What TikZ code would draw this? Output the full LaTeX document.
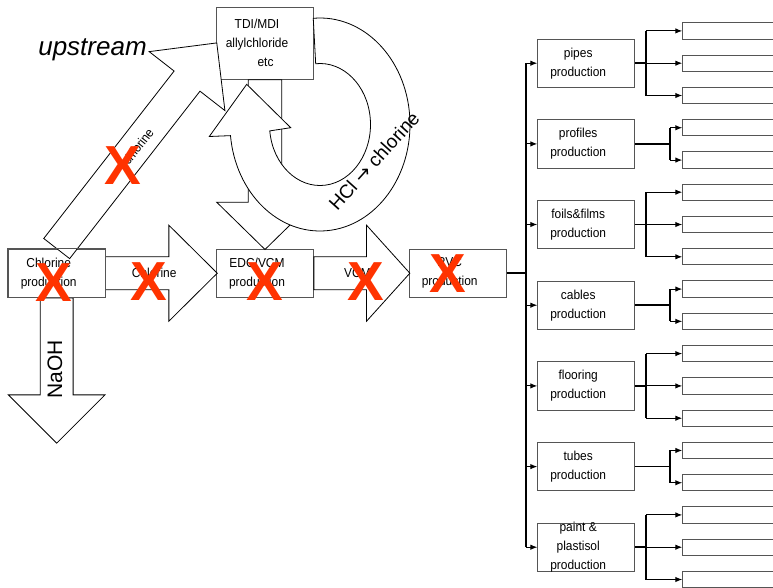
\documentclass[tikz,border=0pt]{standalone}
\usepackage{fontspec}
\setmainfont{Liberation Sans}
\newfontfamily\condf[FakeStretch=0.92]{Liberation Sans}
\newfontfamily\dvsans{DejaVu Sans}
\usetikzlibrary{arrows.meta}
\definecolor{xred}{RGB}{255,51,0}
\definecolor{boxline}{RGB}{85,85,85}
% block arrow: #1 start, #2 angle, #3 length, #4 half shaft, #5 half head, #6 head length
\newcommand{\blockarr}[6]{%
  \draw[barrow,shift={#1},rotate=#2] (0,-#4) -- ({#3-#6},-#4) -- ({#3-#6},-#5) -- (#3,0) -- ({#3-#6},#5) -- ({#3-#6},#4) -- (0,#4) -- cycle;}
\newcommand{\prodbox}[3]{%
  \node[box,fill=white] (#1) at (586.2,#2) {};
  \node[btxt] (#1t) at (#1) {#3};
  \draw[arr] (trunk |- #1.west) -- (#1.west);}
\newcommand{\threeout}[2]{%
  \node[outbox] (#1a) at (682.3,{#2-32.3}) {};
  \node[outbox] (#1b) at (682.3,#2) {};
  \node[outbox] (#1c) at (682.3,{#2+32.3}) {};
  \coordinate (#1j) at (646,#2);
  \draw[thk] (#1.east) -- (#1j);
  \draw[link] (#1j |- #1a.west) -- (#1j |- #1c.west);
  \draw[arr] (#1j |- #1a.west) -- (#1a.west);
  \draw[arr] (#1j) -- (#1b.west);
  \draw[arr] (#1j |- #1c.west) -- (#1c.west);}
\newcommand{\twoout}[2]{%
  \node[outbox] (#1a) at (682.3,{#2-16.15}) {};
  \node[outbox] (#1b) at (682.3,{#2+16.15}) {};
  \coordinate (#1j) at (670,#2);
  \draw[thk] (#1.east) -- (#1j);
  \draw[link] (#1j |- #1a.west) -- (#1j |- #1b.west);
  \draw[arr] (#1j |- #1a.west) -- (#1a.west);
  \draw[arr] (#1j |- #1b.west) -- (#1b.west);}
\begin{document}
\begin{tikzpicture}[x=1pt,y=-1pt,
  box/.style={draw=boxline,line width=1pt,minimum width=96.7pt,minimum height=48.3pt,inner sep=0pt},
  btxt/.style={font=\condf\fontsize{13}{19}\selectfont,align=center,xshift=-8pt,inner sep=0pt},
  outbox/.style={draw=boxline,line width=1pt,minimum width=120pt,minimum height=16.3pt,inner sep=0pt,anchor=west},
  barrow/.style={draw=black,line width=0.8pt,fill=white,line join=miter},
  link/.style={draw=black,line width=1.1pt},
  thk/.style={draw=black,line width=1.7pt},
  arr/.style={link,-{Latex[length=7pt,width=5.5pt]}},
  xmark/.style={text=xred,font=\bfseries\fontsize{55}{55}\selectfont,inner sep=0pt},
  lab/.style={font=\condf\fontsize{13}{15}\selectfont,inner sep=0pt}
]
\useasboundingbox (0,0) rectangle (773,587);
\clip (0,0) rectangle (773,587);

% main boxes
\node[box,fill=white,minimum height=72pt] (tdi) at (265,43.3) {};
\node[box,fill=white] (edc) at (265,273.2) {};
\node[box,fill=white] (pvc) at (457.7,273.2) {};
\node[box] (chl) at (56.7,273.2) {};

% product tree
\coordinate (trunk) at (525.7,273.2);
\prodbox{pipes}{63.2}{pipes\\production}
\prodbox{profiles}{143.9}{profiles\\production}
\prodbox{foils}{224.5}{foils\&films\\production}
\prodbox{cables}{305.2}{cables\\production}
\prodbox{flooring}{385.9}{flooring\\production}
\prodbox{tubes}{466.6}{tubes\\production}
\prodbox{paint}{547.2}{paint \&\\plastisol\\production}
\draw[thk] (pvc.east) -- (trunk);
\draw[thk] (trunk |- pipes.west) -- (trunk |- paint.west);
\threeout{pipes}{63.2}
\twoout{profiles}{143.9}
\threeout{foils}{224.5}
\twoout{cables}{305.2}
\threeout{flooring}{385.9}
\twoout{tubes}{466.6}
\threeout{paint}{547.2}

% block arrows
\blockarr{(chl.east)}{0}{111.7}{16.5}{48}{48.4}
\blockarr{(edc.east)}{0}{96}{16.5}{48}{43.3}
\blockarr{(chl.south)}{-90}{145.3}{16.4}{48.3}{48.3}
\blockarr{(chl.north)}{52.1}{260.6}{16.4}{48}{48.4}
\draw[draw=boxline,line width=1pt] (chl.north west) rectangle (chl.south east);
\blockarr{(tdi.south)}{-90}{169.7}{16.7}{48.3}{47.3}

% circular arrow HCl -> chlorine
\draw[barrow] ([shift={(320,124.5)}]-94.3:90 and 106.5)
  arc[start angle=-94.3,end angle=174,x radius=90,y radius=106.5]
  -- (209.3,136.5) -- (246.7,84.3) -- (290.7,127.7)
  -- ([shift={(320,124.5)}]174:50.5 and 61)
  arc[start angle=174,end angle=-94.9,x radius=50.5,y radius=61] -- cycle;

% texts
\node[btxt] (tdit) at (tdi) {TDI/MDI\\allylchloride\\\hspace*{17pt}etc};
\node[btxt] (chlt) at (chl) {Chlorine\\production};
\node[btxt] (edct) at (edc) {EDC/VCM\\production};
\node[btxt] (pvct) at (pvc) {PVC\\production};
\node[lab] (lchl) at (154.2,273) {Chlorine};
\node[lab] (lvcm) at (357.5,273) {VCM};
\node[lab,rotate=52.1] (ldiag) at (138,146.5) {chlorine};
\node[font=\fontsize{21}{21}\selectfont,rotate=90,inner sep=0pt] (lnaoh) at (55,369.2) {NaOH};
\node[font=\fontsize{19}{19}\selectfont,rotate=48,inner sep=0pt] (lhcl) at (374,161) {HCl {\dvsans→} chlorine};
\node[font=\itshape\fontsize{26}{30}\selectfont,inner sep=0pt,anchor=base] (up) at (92.5,55) {upstream};

% red crosses
\node[xmark] (x1) at (122.5,165.8) {X};
\node[xmark] (x2) at (54.2,282.2) {X};
\node[xmark] (x3) at (149.2,281.7) {X};
\node[xmark] (x4) at (264.7,281.3) {X};
\node[xmark] (x5) at (365.8,281.3) {X};
\node[xmark] (x6) at (448.3,273.7) {X};
\end{tikzpicture}
\end{document}
